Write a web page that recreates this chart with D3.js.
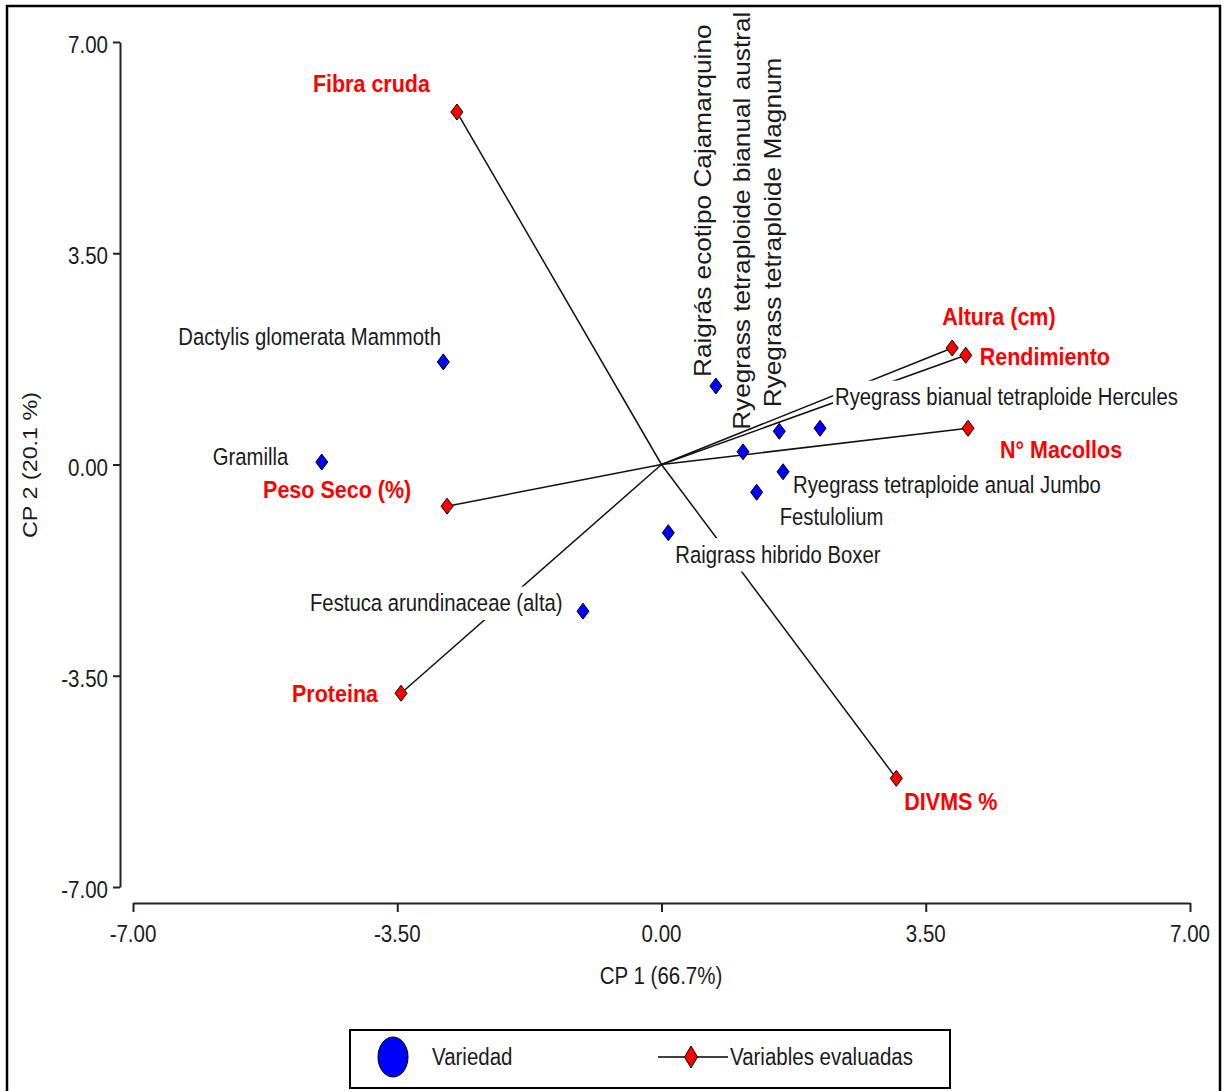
<!DOCTYPE html>
<html>
<head>
<meta charset="utf-8">
<script src="https://cdn.jsdelivr.net/npm/d3@7"></script>
<style>
  body { margin: 0; background: #fff; }
  svg { display: block; font-family: "Liberation Sans", Arial, sans-serif; }
</style>
</head>
<body>
<svg id="chart" width="1225" height="1091"></svg>
<script>
// biplot data (CP1, CP2)
const varietyNames = [
  'Dactylis glomerata Mammoth', 'Gramilla', 'Raigrás ecotipo Cajamarquino',
  'Ryegrass tetraploide bianual austral', 'Ryegrass tetraploide Magnum',
  'Ryegrass bianual tetraploide Hercules', 'Ryegrass tetraploide anual Jumbo',
  'Festulolium', 'Raigrass hibrido Boxer', 'Festuca arundinaceae (alta)'
];
const varietyCP1 = [-2.89, -4.50, 0.72, 1.08, 1.56, 2.10, 1.61, 1.26, 0.09, -1.04];
const varietyCP2 = [1.70, 0.04, 1.30, 0.21, 0.55, 0.60, -0.12, -0.46, -1.13, -2.43];

const variableNames = ['Fibra cruda', 'Altura (cm)', 'Rendimiento', 'N° Macollos', 'Peso Seco (%)', 'Proteina', 'DIVMS %'];
const variableCP1 = [-2.71, 3.85, 4.03, 4.06, -2.84, -3.45, 3.11];
const variableCP2 = [5.84, 1.93, 1.81, 0.60, -0.69, -3.79, -5.20];

const tickValues = [-7, -3.5, 0, 3.5, 7];
const xTitle = 'CP 1 (66.7%)';
const yTitle = 'CP 2 (20.1 %)';
const legendItems = ['Variedad', 'Variables evaluadas'];

// label placement (offset from the point, text start + vertical centre)
const varietyLabelPos = {
  'Dactylis glomerata Mammoth': {dx: -265, dy: -25},
  'Gramilla': {dx: -109, dy: -5},
  'Raigrás ecotipo Cajamarquino': {dx: -13, dy: -9, vertical: true},
  'Ryegrass tetraploide bianual austral': {dx: -1, dy: -22, vertical: true},
  'Ryegrass tetraploide Magnum': {dx: -6, dy: -24, vertical: true},
  'Ryegrass bianual tetraploide Hercules': {dx: 15, dy: -31},
  'Ryegrass tetraploide anual Jumbo': {dx: 10, dy: 13},
  'Festulolium': {dx: 23, dy: 25},
  'Raigrass hibrido Boxer': {dx: 7, dy: 22},
  'Festuca arundinaceae (alta)': {dx: -273, dy: -8}
};
const variableLabelPos = {
  'Fibra cruda': {dx: -144, dy: -29},
  'Altura (cm)': {dx: -10, dy: -32},
  'Rendimiento': {dx: 14, dy: 1},
  'N° Macollos': {dx: 32, dy: 21},
  'Peso Seco (%)': {dx: -184, dy: -17},
  'Proteina': {dx: -109, dy: 0},
  'DIVMS %': {dx: 8, dy: 23}
};

const STRETCH = 1.14; // the source picture is a bit taller than wide
const svg = d3.select('#chart');

const x = d3.scaleLinear().domain([-7, 7]).range([133, 1190]);
const y = d3.scaleLinear().domain([-7, 7]).range([887, 42]);

// text drawn with the same vertical stretch as the original
const label = (parent, px, py, str, opt = {}) => {
  const g = parent.append('g')
    .attr('transform', opt.vertical
      ? `translate(${px},${py}) rotate(-90) scale(${STRETCH},1)`
      : `translate(${px},${py}) scale(1,${STRETCH})`);
  const t = g.append('text')
    .attr('dy', '0.35em')
    .attr('text-anchor', opt.anchor || 'start')
    .attr('font-size', opt.size || 20.5)
    .attr('font-weight', opt.bold ? 'bold' : 'normal')
    .attr('fill', opt.color || '#1a1a1a')
    .text(str);
  if (opt.bg) {
    const b = t.node().getBBox();
    g.insert('rect', 'text')
      .attr('x', b.x - 2).attr('y', b.y - 3)
      .attr('width', b.width + 4).attr('height', b.height + 6)
      .attr('fill', '#fff');
  }
  return g;
};

// outer frame
svg.append('rect')
  .attr('x', 7).attr('y', 6).attr('width', 1213).attr('height', 1110)
  .attr('fill', 'none').attr('stroke', '#000').attr('stroke-width', 2.5);

// axes
svg.append('g')
  .attr('transform', 'translate(120,0)')
  .call(d3.axisLeft(y).tickValues(tickValues).tickSize(7).tickSizeOuter(0).tickFormat(''));
svg.append('g')
  .attr('transform', 'translate(0,903)')
  .call(d3.axisBottom(x).tickValues(tickValues).tickSize(9).tickSizeOuter(0).tickFormat(''));
svg.selectAll('.domain, .tick line').attr('stroke', '#222').attr('stroke-width', 2);

// plain hyphen for negatives, like the source
const fmt = (v) => d3.format('.2f')(v).replace('\u2212', '-');
for (const v of tickValues) {
  label(svg, 108, y(v) + 3, fmt(v), {anchor: 'end'});
  label(svg, x(v), 934, fmt(v), {anchor: 'middle'});
}
label(svg, 661, 976, xTitle, {anchor: 'middle'});
label(svg, 30, 465, yTitle, {anchor: 'middle', vertical: true});

// variable vectors
const vars = variableNames.map((name, i) => ({name, cp1: variableCP1[i], cp2: variableCP2[i]}));
svg.append('g')
  .selectAll('line')
  .data(vars)
  .enter()
  .append('line')
  .attr('x1', x(0)).attr('y1', y(0))
  .attr('x2', (d) => x(d.cp1)).attr('y2', (d) => y(d.cp2))
  .attr('stroke', '#111').attr('stroke-width', 1.5);

const diamond = (w, h) => `M0,${-h}L${w},0L0,${h}L${-w},0Z`;

// varieties
const vts = varietyNames.map((name, i) => ({name, cp1: varietyCP1[i], cp2: varietyCP2[i]}));
const labelLayer = svg.append('g');
for (const d of vts) {
  const p = varietyLabelPos[d.name];
  label(labelLayer, x(d.cp1) + p.dx, y(d.cp2) + p.dy, d.name,
    p.vertical ? {vertical: true, size: 23} : {size: 20.3, bg: true});
}
svg.append('g')
  .selectAll('path')
  .data(vts)
  .enter()
  .append('path')
  .attr('transform', (d) => `translate(${x(d.cp1)},${y(d.cp2)})`)
  .attr('d', diamond(6, 8))
  .attr('fill', '#0000ff').attr('stroke', '#000').attr('stroke-width', 1);

svg.append('g')
  .selectAll('path')
  .data(vars)
  .enter()
  .append('path')
  .attr('transform', (d) => `translate(${x(d.cp1)},${y(d.cp2)})`)
  .attr('d', diamond(6, 8))
  .attr('fill', '#ff0000').attr('stroke', '#000').attr('stroke-width', 1);

for (const d of vars) {
  const p = variableLabelPos[d.name];
  label(svg, x(d.cp1) + p.dx, y(d.cp2) + p.dy, d.name, {size: 21.5, bold: true, color: '#ff0000'});
}

// legend
const legend = svg.append('g');
legend.append('rect')
  .attr('x', 350).attr('y', 1030).attr('width', 600).attr('height', 58)
  .attr('fill', '#fff').attr('stroke', '#000').attr('stroke-width', 2);
legend.append('ellipse')
  .attr('cx', 393).attr('cy', 1057).attr('rx', 15).attr('ry', 20)
  .attr('fill', '#0000ff').attr('stroke', '#000').attr('stroke-width', 1);
label(legend, 432, 1057, legendItems[0]);
legend.append('line')
  .attr('x1', 658).attr('x2', 728).attr('y1', 1057).attr('y2', 1057)
  .attr('stroke', '#000').attr('stroke-width', 1.5);
legend.append('path')
  .attr('transform', 'translate(691,1057)')
  .attr('d', diamond(6.5, 11))
  .attr('fill', '#ff0000').attr('stroke', '#000').attr('stroke-width', 1);
label(legend, 730, 1057, legendItems[1]);
</script>
</body>
</html>
